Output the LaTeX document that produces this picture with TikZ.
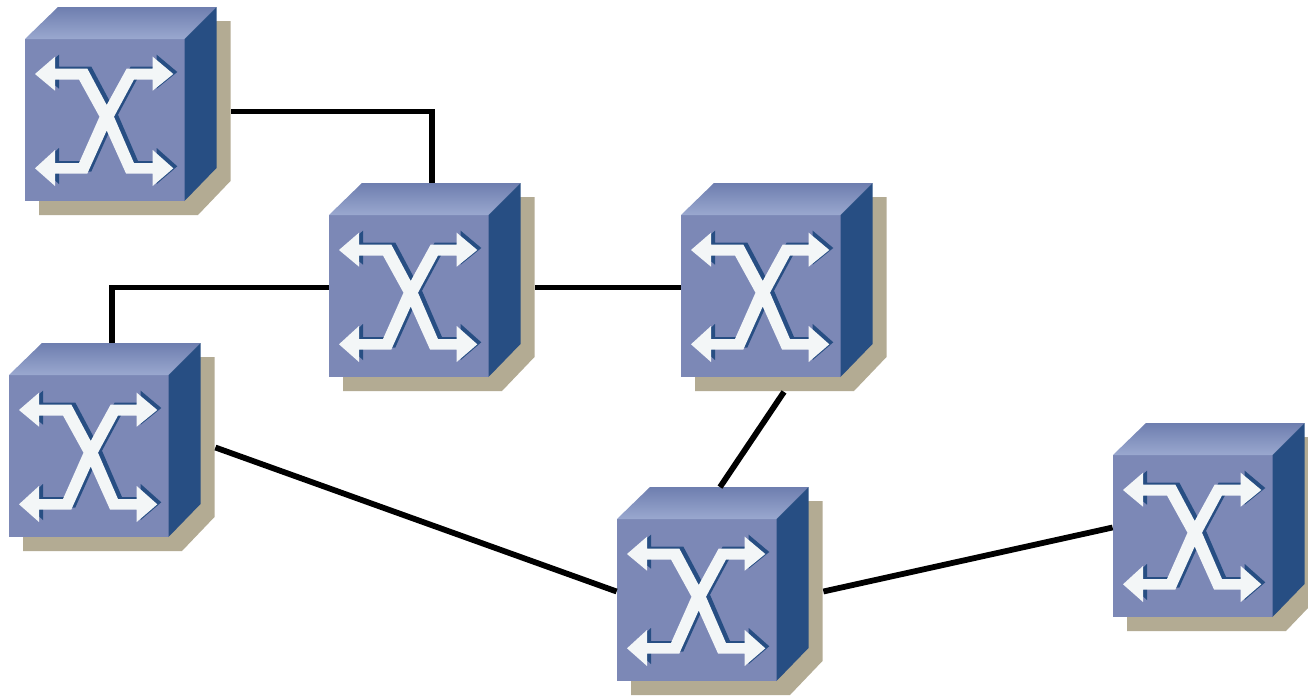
\documentclass[tikz,border=0pt]{standalone}
\usepackage{tikz}
\usetikzlibrary{arrows,positioning}
\usetikzlibrary{calc}
\definecolor{boxfront}{HTML}{7C88B6}
\definecolor{boxtoplight}{HTML}{9AA8CF}
\definecolor{boxtopdark}{HTML}{6E7EAF}
\definecolor{boxside}{HTML}{274E83}
\definecolor{boxshadow}{HTML}{B3AB93}
\definecolor{crosswhite}{HTML}{F3F6F7}
\newcommand{\crosspath}{
    (-93,-37.5) -- (-73,-54.8) -- (-73,-43) -- (-40.7,-43) -- (-21.3,-6.5)
    -- (-1.3,-43) -- (24.7,-43) -- (24.7,-54.8) -- (45.3,-37.5) -- (24.7,-20.8)
    -- (24.7,-32) -- (6,-32) -- (-14,5.2) -- (6,51.5) -- (24.7,51.5)
    -- (24.7,38.5) -- (45.3,56.8) -- (24.7,74.5) -- (24.7,62) -- (-2,62)
    -- (-21.3,19) -- (-40.7,62) -- (-73,62) -- (-73,74.5) -- (-93,56.8)
    -- (-73,38.5) -- (-73,51.5) -- (-49,51.5) -- (-28.5,5.2) -- (-49,-32)
    -- (-73,-32) -- (-73,-20.8) -- cycle
}
\tikzset{
    switchnode/.style={rectangle, inner sep=0pt, minimum width=103pt, minimum height=104pt},
    link/.style={line width=2.9pt, black},
    switchbox/.pic={
        % shadow
        \fill[boxshadow] (88.5,-90.5) -- (102.5,-90.5) -- (102.5,69.5) -- (70,103.5) -- (-89,103.5) -- (-89,89.5) -- cycle;
        % cube faces
        \fill[boxfront] (-103,-72.5) rectangle (56.5,89.5);
        \shade[top color=boxtopdark, bottom color=boxtoplight] (-103,-72.5) -- (-70,-104.5) -- (88.5,-104.5) -- (56.5,-72.5) -- cycle;
        \fill[boxside] (56.5,-72.5) -- (88.5,-104.5) -- (88.5,56.5) -- (56.5,89.5) -- cycle;
        % crossing arrows
        \fill[boxside, xshift=2pt, yshift=1pt] \crosspath;
        \fill[crosswhite] \crosspath;
    }
}

\begin{document}
\begin{tikzpicture}[x=0.5pt, y=-0.5pt]

        \useasboundingbox (0,0) rectangle (1308,696);

        % Switches
        \foreach \i/\x/\y in {1/128/111.5, 2/432/287.5, 3/784/287.5, 4/112/447.5, 5/720/591.5, 6/1216/527.5}
        {
            \node[switchnode] (Switch-\i) at (\x,\y) {};
            \pic at (Switch-\i) {switchbox};
        }

        % Connect switches
        \draw[link] (Switch-1.east) -| (Switch-2.north);
        \draw[link] (Switch-4.north) |- (Switch-2.west);
        \draw[link] (Switch-2.east) -- (Switch-3.west);
        \draw[link] (Switch-3.south) -- (Switch-5.north);
        \draw[link] (Switch-4.east) -- (Switch-5.west);
        \draw[link] (Switch-5.east) -- (Switch-6.west);

\end{tikzpicture}
\end{document}
